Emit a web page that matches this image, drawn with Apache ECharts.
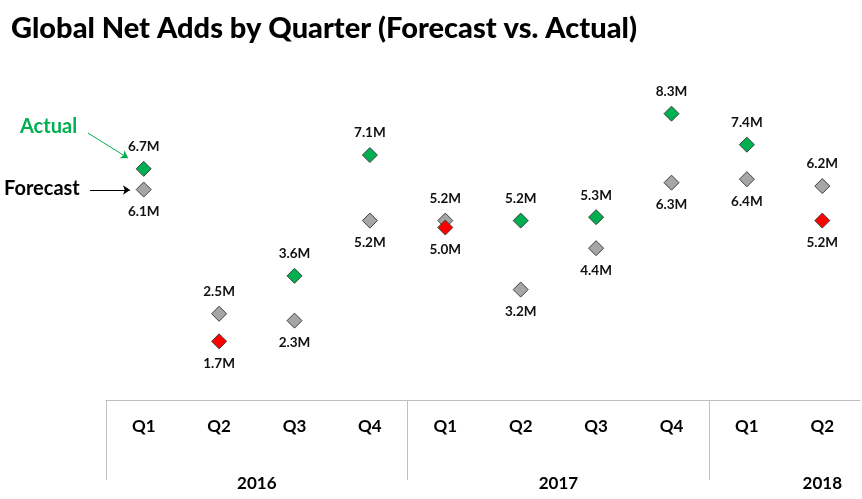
<!DOCTYPE html>
<html><head><meta charset="utf-8">
<script src="https://cdn.jsdelivr.net/npm/echarts@6/dist/echarts.min.js"></script>
<style>html,body{margin:0;padding:0;background:#fff}#c{width:862px;height:499px}</style>
</head><body><div id="c"></div>
<script>
const quarters = ['Q1','Q2','Q3','Q4','Q1','Q2','Q3','Q4','Q1','Q2'];
const years = ['2016','2016','2016','2016','2017','2017','2017','2017','2018','2018'];
const forecast = [6.1,2.5,2.3,5.2,5.2,3.2,4.4,6.3,6.4,6.2];
const actual = [6.7,1.7,3.6,7.1,5.0,5.2,5.3,8.3,7.4,5.2];

const FONT = 'Lato, "Open Sans", sans-serif';
const GREEN = '#00b050', RED = '#ff0000', GRAY = '#a6a6a6';
const fmt = v => v.toFixed(1) + 'M';

const forecastData = forecast.map((v, i) => ({
  value: [i, v],
  label: { position: v > actual[i] ? 'top' : 'bottom' }
}));
const actualData = actual.map((v, i) => ({
  value: [i, v],
  itemStyle: { color: v >= forecast[i] ? GREEN : RED },
  label: { position: v >= forecast[i] ? 'top' : 'bottom' }
}));

const labelStyle = {
  show: true, distance: 7, color: '#111', fontFamily: FONT,
  fontWeight: 'bold', fontSize: 13.5,
  formatter: p => fmt(p.value[1])
};

const chart = echarts.init(document.getElementById('c'), null, {renderer: 'canvas'});
chart.setOption({
  animation: false,
  backgroundColor: '#fff',
  title: {
    text: 'Global Net Adds by Quarter (Forecast vs. Actual)',
    left: 6, top: 9,
    textStyle: { fontFamily: FONT, fontWeight: 900, fontSize: 29, color: '#000' }
  },
  grid: { left: 106, right: 2, top: 55, bottom: 99 },
  xAxis: [{
    type: 'category', data: quarters, position: 'bottom',
    axisLine: { lineStyle: { color: '#bfbfbf', width: 1 } },
    axisTick: { show: false },
    axisLabel: { margin: 18, color: '#000', fontFamily: FONT, fontWeight: 'bold', fontSize: 17 },
    splitLine: { show: false }
  }, {
    type: 'value', min: 0, max: quarters.length, position: 'bottom',
    axisLine: { show: false },
    splitLine: { show: false },
    axisTick: { show: true, customValues: [0, 4, 8], length: 80, lineStyle: { color: '#bfbfbf', width: 1 } },
    axisLabel: {
      customValues: [2, 6, 9.5], margin: 75, color: '#000', fontFamily: FONT,
      fontWeight: 'bold', fontSize: 17,
      formatter: v => years[Math.min(years.length - 1, Math.floor(v))]
    }
  }],
  yAxis: { type: 'value', min: 0, max: 10, show: false, splitLine: { show: false } },
  series: [{
    name: 'Forecast', type: 'scatter', xAxisIndex: 0, symbol: 'diamond', symbolSize: 15,
    itemStyle: { color: GRAY, borderColor: '#404040', borderWidth: 1, opacity: 1 },
    label: labelStyle,
    data: forecastData,
    markLine: {
      silent: true, symbol: ['none', 'arrow'], symbolSize: 7,
      lineStyle: { color: '#000', width: 1, type: 'solid' }, label: { show: false },
      data: [[{ x: 90, y: 190 }, { x: 130, y: 190 }]]
    }
  }, {
    name: 'Actual', type: 'scatter', xAxisIndex: 0, symbol: 'diamond', symbolSize: 15,
    itemStyle: { borderColor: '#404040', borderWidth: 1, opacity: 1 },
    label: labelStyle,
    data: actualData,
    markLine: {
      silent: true, symbol: ['none', 'arrow'], symbolSize: 7,
      lineStyle: { color: GREEN, width: 1, type: 'solid' }, label: { show: false },
      data: [[{ x: 88, y: 133 }, { x: 128, y: 158 }]]
    }
  }],
  graphic: [{
    type: 'text', left: 20, top: 117,
    style: { text: 'Actual', fill: GREEN, font: 'bold 20px ' + FONT }
  }, {
    type: 'text', left: 4, top: 179,
    style: { text: 'Forecast', fill: '#000', font: 'bold 20px ' + FONT }
  }]
});
</script></body></html>
